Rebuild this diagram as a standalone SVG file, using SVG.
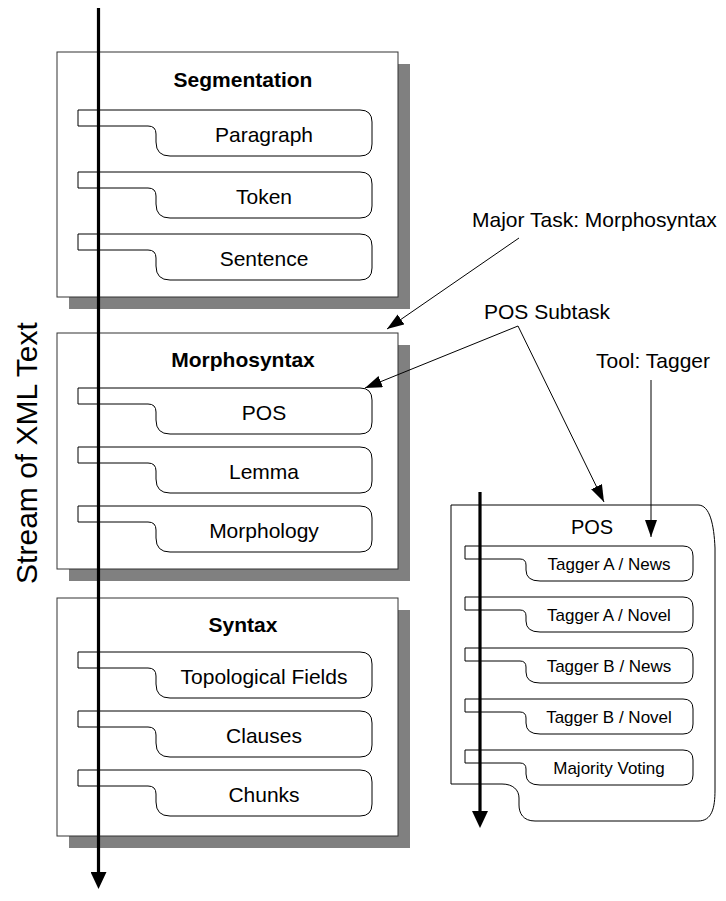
<svg xmlns="http://www.w3.org/2000/svg" xmlns:xlink="http://www.w3.org/1999/xlink" width="726" height="901" viewBox="0 0 726 901">
<style>
text{font-family:"Liberation Sans",Arial,sans-serif;fill:#000}
.title{font-size:21px;font-weight:bold;text-anchor:middle}
.sub{font-size:21px;text-anchor:middle}
.small{font-size:17px;text-anchor:middle}
.lbl{font-size:21px}
.outer{fill:#fff;stroke:#333;stroke-width:1}
.shadow{fill:#808080;stroke:none}
.tab{fill:#fff;stroke:#000;stroke-width:1}
.thin{fill:none;stroke:#000;stroke-width:1}
.thick{fill:none;stroke:#000;stroke-width:3.2}
</style>
<defs>
<path id="bigtab" d="M0 0 H282 Q294 0 294 12 V34 Q294 46 282 46 H92 Q78 46 78 32 V24 Q78 16 70 16 H0 Z"/>
<path id="smalltab" d="M0 0 H218 Q228 0 228 10 V25 Q228 35 218 35 H75 Q61 35 61 24 V19 Q61 13 55 13 H0 Z"/>
<marker id="ah" markerWidth="17" markerHeight="12" refX="17" refY="6" orient="auto" markerUnits="userSpaceOnUse"><path d="M0,0 L17,6 L0,12 Z" fill="#000"/></marker>
<marker id="ahBig" markerWidth="17" markerHeight="16" refX="0" refY="8" orient="auto" markerUnits="userSpaceOnUse"><path d="M0,0 L17,8 L0,16 Z" fill="#000"/></marker>
</defs>

<text class="lbl" transform="translate(37,453) rotate(-90)" text-anchor="middle" style="font-size:30px">Stream of XML Text</text>

<g id="segmentation">
<rect class="shadow" x="69" y="64" width="341" height="245"/>
<rect class="outer" x="57" y="52" width="341" height="245"/>
<text class="title" x="243" y="87">Segmentation</text>
<g id="paragraph"><use xlink:href="#bigtab" class="tab" transform="translate(78,110)"/><text class="sub" x="264" y="142">Paragraph</text></g>
<g id="token"><use xlink:href="#bigtab" class="tab" transform="translate(78,172)"/><text class="sub" x="264" y="204">Token</text></g>
<g id="sentence"><use xlink:href="#bigtab" class="tab" transform="translate(78,234)"/><text class="sub" x="264" y="266">Sentence</text></g>
</g>

<g id="morphosyntax">
<rect class="shadow" x="69" y="345" width="341" height="236"/>
<rect class="outer" x="57" y="333" width="341" height="236"/>
<text class="title" x="243" y="367">Morphosyntax</text>
<g id="pos"><use xlink:href="#bigtab" class="tab" transform="translate(78,388)"/><text class="sub" x="264" y="420">POS</text></g>
<g id="lemma"><use xlink:href="#bigtab" class="tab" transform="translate(78,447)"/><text class="sub" x="264" y="479">Lemma</text></g>
<g id="morphology"><use xlink:href="#bigtab" class="tab" transform="translate(78,506)"/><text class="sub" x="264" y="538">Morphology</text></g>
</g>

<g id="syntax">
<rect class="shadow" x="69" y="610" width="341" height="238"/>
<rect class="outer" x="57" y="598" width="341" height="238"/>
<text class="title" x="243" y="632">Syntax</text>
<g id="topological-fields"><use xlink:href="#bigtab" class="tab" transform="translate(78,652)"/><text class="sub" x="264" y="684">Topological Fields</text></g>
<g id="clauses"><use xlink:href="#bigtab" class="tab" transform="translate(78,711)"/><text class="sub" x="264" y="743">Clauses</text></g>
<g id="chunks"><use xlink:href="#bigtab" class="tab" transform="translate(78,770)"/><text class="sub" x="264" y="802">Chunks</text></g>
</g>

<g id="pos-detail">
<path class="outer" style="stroke:#000" d="M451 505 H698 C710 505 714 525 715 548 V790 C715 808 712 821 698 821 H535 C523 821 519 813 519 805 V798 C519 790 513 784 502 784 H451 Z"/>
<text class="sub" x="592" y="534" style="font-size:20px">POS</text>
<g id="tagger-a-news"><use xlink:href="#smalltab" class="tab" transform="translate(465,546)"/><text class="small" x="609" y="570">Tagger A / News</text></g>
<g id="tagger-a-novel"><use xlink:href="#smalltab" class="tab" transform="translate(465,597)"/><text class="small" x="609" y="621">Tagger A / Novel</text></g>
<g id="tagger-b-news"><use xlink:href="#smalltab" class="tab" transform="translate(465,648)"/><text class="small" x="609" y="672">Tagger B / News</text></g>
<g id="tagger-b-novel"><use xlink:href="#smalltab" class="tab" transform="translate(465,699)"/><text class="small" x="609" y="723">Tagger B / Novel</text></g>
<g id="majority-voting"><use xlink:href="#smalltab" class="tab" transform="translate(465,750)"/><text class="small" x="609" y="774">Majority Voting</text></g>
</g>

<g id="labels">
<text class="lbl" x="472" y="227">Major Task: Morphosyntax</text>
<text class="lbl" x="484" y="319">POS Subtask</text>
<text class="lbl" x="596" y="368">Tool: Tagger</text>
</g>

<g id="connectors">
<path class="thick" d="M98.5 8 V872" marker-end="url(#ahBig)"/>
<path class="thick" d="M480 492 V811" marker-end="url(#ahBig)"/>
<path class="thin" d="M519 238 L387 329" marker-end="url(#ah)"/>
<path class="thin" d="M518 326 L365 388" marker-end="url(#ah)"/>
<path class="thin" d="M518 326 L604 502" marker-end="url(#ah)"/>
<path class="thin" d="M651 380 V537" marker-end="url(#ah)"/>
</g>
</svg>
